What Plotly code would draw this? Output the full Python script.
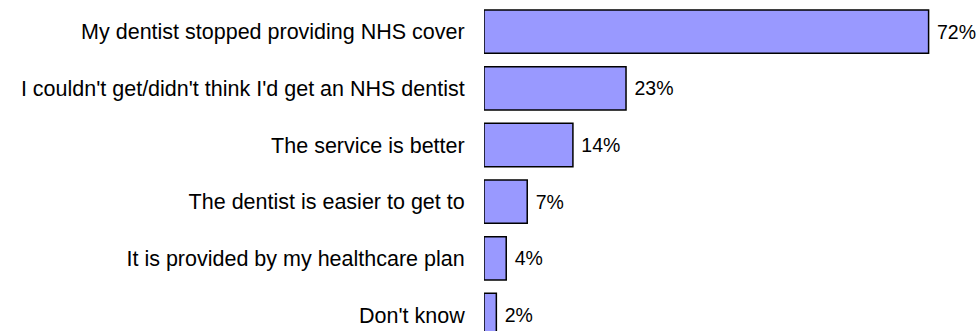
import plotly.graph_objects as go

categories = [
    "My dentist stopped providing NHS cover",
    "I couldn't get/didn't think I'd get an NHS dentist",
    "The service is better",
    "The dentist is easier to get to",
    "It is provided by my healthcare plan",
    "Don't know",
]
values = [72, 23, 14.4, 7, 3.6, 2]

fig = go.Figure(
    go.Bar(
        x=values,
        y=categories,
        orientation="h",
        marker=dict(color="#9999FF", line=dict(color="#000000", width=1.5)),
        texttemplate=" %{x:.0f}%",
        textposition="outside",
        textfont=dict(family="Liberation Sans, Arial, sans-serif", size=19.5, color="#000000"),
        cliponaxis=False,
        width=0.765,
    )
)

fig.update_layout(
    width=978,
    height=331,
    margin=dict(l=484, r=0, t=0, b=0),
    plot_bgcolor="white",
    paper_bgcolor="white",
    showlegend=False,
    font=dict(family="Liberation Sans, Arial, sans-serif", size=21, color="#000000"),
    xaxis=dict(range=[0, 80], visible=False, fixedrange=True),
    yaxis=dict(
        type="category",
        categoryorder="array",
        categoryarray=categories,
        range=[5.282, -0.559],
        showgrid=False,
        zeroline=False,
        showline=False,
        ticks="outside",
        ticklen=14,
        tickcolor="rgba(0,0,0,0)",
        tickfont=dict(family="Liberation Sans, Arial, sans-serif", size=21.5, color="#000000"),
    ),
)

fig.write_html("out.html")
